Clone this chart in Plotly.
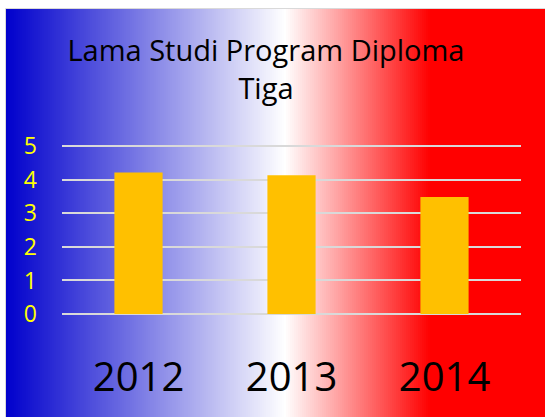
import plotly.graph_objects as go

years = ["2012", "2013", "2014"]
values = [4.22, 4.14, 3.49]
y_ticks = [0, 1, 2, 3, 4, 5]

W, H = 545, 417
L, R, T, B = 62, 24, 145, 103
pw, ph = W - L - R, H - T - B

def px_x(p):
    return (p - L) / pw

def px_y(p):
    return (H - B - p) / ph

stops = [(6, (0, 0, 204)), (285, (255, 255, 255)), (430, (255, 0, 0)), (545, (255, 0, 0))]

def col_at(x):
    for (x0, c0), (x1, c1) in zip(stops[:-1], stops[1:]):
        if x0 <= x <= x1:
            t = (x - x0) / (x1 - x0)
            return "rgb(%d,%d,%d)" % tuple(round(a + (b - a) * t) for a, b in zip(c0, c1))
    return "rgb(255,0,0)"

shapes = []
step = 2
x = 6
while x < W:
    shapes.append(dict(type="rect", xref="paper", yref="paper",
                       x0=px_x(x), x1=px_x(min(x + step + 0.5, W)),
                       y0=px_y(H), y1=px_y(9), fillcolor=col_at(x + step / 2),
                       line=dict(width=0), layer="below"))
    x += step
shapes.append(dict(type="rect", xref="paper", yref="paper",
                   x0=px_x(5.5), x1=px_x(W + 2), y0=px_y(H + 2), y1=px_y(8.5),
                   fillcolor="rgba(0,0,0,0)", line=dict(width=1, color="#D9D9D9"), layer="below"))

fig = go.Figure(go.Bar(x=years, y=values, marker=dict(color="#FFC000", line=dict(width=0)),
                       hoverinfo="skip"))

fig.update_layout(
    width=W, height=H,
    margin=dict(l=L, r=R, t=T, b=B, pad=0),
    paper_bgcolor="white", plot_bgcolor="rgba(0,0,0,0)",
    bargap=0.685,
    showlegend=False,
    shapes=shapes,
    font=dict(family="Open Sans, Calibri, sans-serif", color="black"),
    title=dict(text="Lama Studi Program Diploma<br>Tiga", x=0.488, xanchor="center",
               y=1 - 61 / H, yanchor="top", yref="container",
               font=dict(size=29, color="black", family="Open Sans")),
)
fig.update_yaxes(range=[0, 5.04], tickvals=y_ticks, showgrid=True, gridcolor="#D9D9D9", gridwidth=2,
                 zeroline=True, zerolinecolor="#D9D9D9", zerolinewidth=2,
                 showline=False, ticks="",
                 tickfont=dict(size=23, color="#FFFF00", family="Open Sans"),
                 ticklabelstandoff=24)
fig.update_xaxes(showgrid=False, showline=False, ticks="",
                 tickfont=dict(size=40, color="black", family="Open Sans"),
                 ticklabelstandoff=36)

fig.write_html("out.html", config={"displayModeBar": False},
               post_script="document.body.style.margin='0';document.body.style.overflow='hidden';")
